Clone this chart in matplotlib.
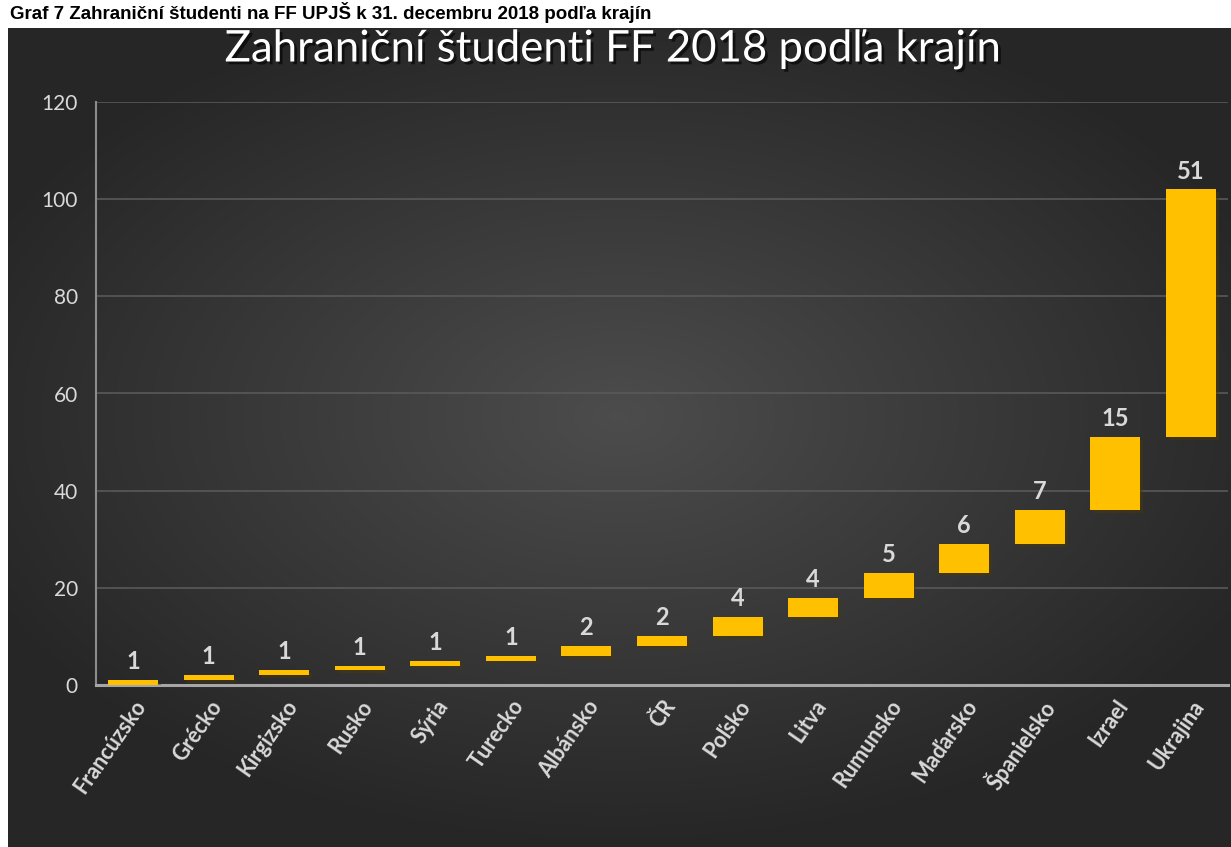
from matplotlib import pyplot as plt
import matplotlib.patheffects as pe
import numpy as np

# Data
krajiny = ['Francúzsko', 'Grécko', 'Kirgizsko', 'Rusko', 'Sýria', 'Turecko',
           'Albánsko', 'ČR', 'Poľsko', 'Litva', 'Rumunsko', 'Maďarsko',
           'Španielsko', 'Izrael', 'Ukrajina']
pocty = [1, 1, 1, 1, 1, 1, 2, 2, 4, 4, 5, 6, 7, 15, 51]
y_ticks = [0, 20, 40, 60, 80, 100, 120]

nadpis = 'Zahraniční študenti FF 2018 podľa krajín'
popis = 'Graf 7 Zahraniční študenti na FF UPJŠ k 31. decembru 2018 podľa krajín'

fonts = ['Lato', 'DejaVu Sans']
txt_col = '#d9d9d9'

# Waterfall: each bar starts where the previous one ended
konce = np.cumsum(pocty)
zaciatky = konce - np.array(pocty)

fig = plt.figure(figsize=(12.31, 8.47), dpi=100)
fig.patch.set_facecolor('white')

# Dark panel with radial gradient
bg = fig.add_axes([8 / 1231, 0, 1 - 8 / 1231, 1 - 28 / 847])
gx, gy = np.meshgrid(np.linspace(-1, 1, 400), np.linspace(-1, 1, 300))
r = np.sqrt((gx / 1.15) ** 2 + ((gy + 0.05) / 1.05) ** 2)
shade = np.clip(1 - r, 0, 1)
g = 0.15 + 0.15 * shade
bg.imshow(np.dstack([g, g, g]), aspect='auto', extent=[0, 1, 0, 1],
          interpolation='bicubic')
bg.set_axis_off()

# Caption above panel
fig.text(10 / 1231, 1 - 19 / 847, popis, fontsize=13.5, fontweight='bold',
         family=['Liberation Sans', 'DejaVu Sans'], color='black',
         ha='left', va='baseline')

# Chart title
fig.text(613 / 1231, 1 - 49 / 847, nadpis, fontsize=31.5, color='white',
         family=fonts, ha='center', va='center',
         path_effects=[pe.withSimplePatchShadow(offset=(2, -2),
                                                shadow_rgbFace='black',
                                                alpha=0.6)])

ax = fig.add_axes([96 / 1231, 1 - 685 / 847, (1228 - 96) / 1231,
                   (685 - 102) / 847])
ax.patch.set_alpha(0)

x = np.arange(len(krajiny))
bars = ax.bar(x, pocty, bottom=zaciatky, width=0.66, color='#ffc000',
              zorder=3)
for b in bars:
    b.set_path_effects([pe.SimplePatchShadow(offset=(2, -2), alpha=0.45),
                        pe.Normal()])

for xi, top, v in zip(x, konce, pocty):
    ax.annotate(str(v), (xi, top), xytext=(0, 5), textcoords='offset points',
                ha='center', va='bottom', fontsize=17, fontweight='bold',
                color=txt_col, family=fonts)

ax.set_xlim(-0.49, 14.49)
ax.set_ylim(0, 120)
ax.set_yticks(y_ticks)
ax.set_xticks(x)
ax.set_xticklabels(krajiny, rotation=55, ha='right', va='top',
                   rotation_mode='anchor', fontsize=15.5, fontweight='bold',
                   color=txt_col, family=fonts)
for lab in ax.get_yticklabels():
    lab.set_fontsize(15)
    lab.set_color(txt_col)
    lab.set_family(fonts)

ax.tick_params(axis='both', length=0)
ax.tick_params(axis='y', pad=13)
ax.tick_params(axis='x', pad=8)

ax.grid(axis='y', color='#595959', linewidth=1.2, zorder=0)
ax.set_axisbelow(True)
for s in ['top', 'right']:
    ax.spines[s].set_visible(False)
ax.spines['left'].set_color('#8c8c8c')
ax.spines['left'].set_linewidth(1.5)
ax.spines['bottom'].set_color('#a6a6a6')
ax.spines['bottom'].set_linewidth(2.2)

plt.savefig('out.png', dpi=100)
